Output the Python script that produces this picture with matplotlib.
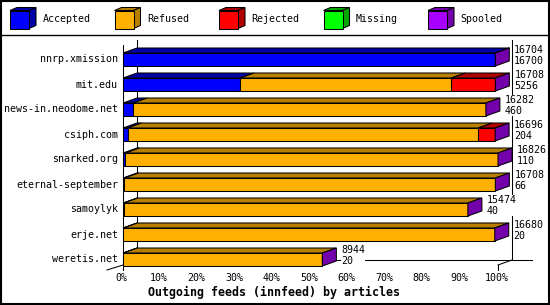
import matplotlib
matplotlib.use('Agg')
import matplotlib.pyplot as plt
from matplotlib.patches import Polygon, Rectangle
import numpy as np

# ---- data ----
hosts = ['nnrp.xmission', 'mit.edu', 'news-in.neodome.net', 'csiph.com',
         'snarked.org', 'eternal-september', 'samoylyk', 'erje.net', 'weretis.net']
offered = [16704, 16708, 16282, 16696, 16826, 16708, 15474, 16680, 8944]
accepted = [16700, 5256, 460, 204, 110, 66, 40, 20, 20]
rejected = [0, 1975, 0, 760, 0, 0, 0, 0, 0]
missing = [0, 0, 0, 0, 0, 0, 0, 0, 0]
refused = [o - a - r - m for o, a, r, m in zip(offered, accepted, rejected, missing)]
series = ['Accepted', 'Refused', 'Rejected', 'Missing', 'Spooled']
tick_vals = [0, 10, 20, 30, 40, 50, 60, 70, 80, 90, 100]
title = 'Outgoing feeds (innfeed) by articles'

front_col = {'Accepted': '#0000FF', 'Refused': '#FFB000', 'Rejected': '#FF0000',
             'Missing': '#00FF00', 'Spooled': '#A800FF'}
dark_col = {'Accepted': '#0000A8', 'Refused': '#B88000', 'Rejected': '#B00000',
            'Missing': '#00A800', 'Spooled': '#7400AC'}

MONO = 'DejaVu Sans Mono'
FS = 7.2
LW = 0.75

W, H = 550, 305
fig = plt.figure(figsize=(W / 100, H / 100), dpi=100)
over = fig.add_axes([0, 0, 1, 1])
over.set_xlim(0, W)
over.set_ylim(H, 0)
over.axis('off')

TOP, BOT = 34.5, 284.5
ax = fig.add_axes([123 / W, (H - BOT) / H, 375 / W, (BOT - TOP) / H])
ax.set_xlim(0, 100)
ax.set_ylim(9, -1)
ax.axis('off')

PXX = 375 / 100.0  # px per percent
PXY = 25.0         # px per category unit


def dxp(px):
    return (px - 123) / PXX


def dyp(py):
    return (py - TOP) / PXY - 1


DX = 14 / PXX
DY = 5 / PXY
HALF = 6.5 / PXY

lkw = dict(color='black', lw=LW, clip_on=False, zorder=1)
ax.plot([0, 0], [dyp(45), dyp(270)], **lkw)
ax.plot([DX, DX], [dyp(40), dyp(260)], **lkw)
ax.plot([100 + DX, 100 + DX], [dyp(40), dyp(260)], **lkw)
ax.plot([DX, dxp(532)], [dyp(260), dyp(260)], **lkw)
ax.plot([dxp(107), 0], [dyp(270), dyp(265)], **lkw)
ax.plot([100, 100 + DX], [dyp(265), dyp(260)], **lkw)
ax.plot([100, 100], [dyp(265), dyp(270)], **lkw)

maxv = max(offered)
seg_data = {'Accepted': accepted, 'Refused': refused, 'Rejected': rejected, 'Missing': missing}

for i, host in enumerate(hosts):
    left = 0.0
    yt = i - HALF
    yb = i + HALF
    for s in ['Accepted', 'Refused', 'Rejected', 'Missing']:
        v = seg_data[s][i]
        if v <= 0:
            continue
        w = v / maxv * 100
        ax.barh(i, w, left=left, height=2 * HALF, color=front_col[s],
                edgecolor='black', linewidth=LW, zorder=3, clip_on=False)
        top = Polygon([(left, yt), (left + w, yt), (left + w + DX, yt - DY), (left + DX, yt - DY)],
                      closed=True, facecolor=dark_col[s], edgecolor='black', lw=LW,
                      zorder=3, clip_on=False)
        ax.add_patch(top)
        left += w
    side = Polygon([(left, yt), (left + DX, yt - DY), (left + DX, yb - DY), (left, yb)],
                   closed=True, facecolor=dark_col['Spooled'], edgecolor='black', lw=LW,
                   zorder=3, clip_on=False)
    ax.add_patch(side)
    ax.text(left + DX + 5 / PXX, i - 0.16, f'{offered[i]}\n{accepted[i]}', family=MONO,
            size=FS, ha='left', va='center', linespacing=1.1, zorder=4,
            bbox=dict(facecolor='white', edgecolor='none', pad=0))
    ax.text(-5 / PXX, i, host, family=MONO, size=FS, ha='right', va='center')

for t in tick_vals:
    ax.text(t - 1.5 / PXX, dyp(278), f'{t}%', family=MONO, size=FS, ha='center', va='center')

over.text(274, 292, title, family=MONO, size=8.4, weight='bold', ha='center', va='center')

# legend
for k, name in enumerate(series):
    x0 = 10 + 104.5 * k
    over.add_patch(Polygon([(x0, 10.5), (x0 + 7, 7.5), (x0 + 26, 7.5), (x0 + 19, 10.5)],
                           closed=True, facecolor=dark_col[name], edgecolor='black', lw=LW))
    over.add_patch(Polygon([(x0 + 19, 10.5), (x0 + 26, 7.5), (x0 + 26, 25.5), (x0 + 19, 28.5)],
                           closed=True, facecolor=dark_col[name], edgecolor='black', lw=LW))
    over.add_patch(Rectangle((x0, 10.5), 19, 18, facecolor=front_col[name],
                             edgecolor='black', lw=LW))
    over.text(x0 + 32.5, 19.5, name, family=MONO, size=FS, ha='left', va='center')

over.plot([0, W], [35, 35], color='black', lw=1.0)
over.add_patch(Rectangle((0.75, 0.75), W - 1.5, H - 1.5, fill=False, edgecolor='black', lw=1.5))

fig.savefig('out.png', dpi=100)
